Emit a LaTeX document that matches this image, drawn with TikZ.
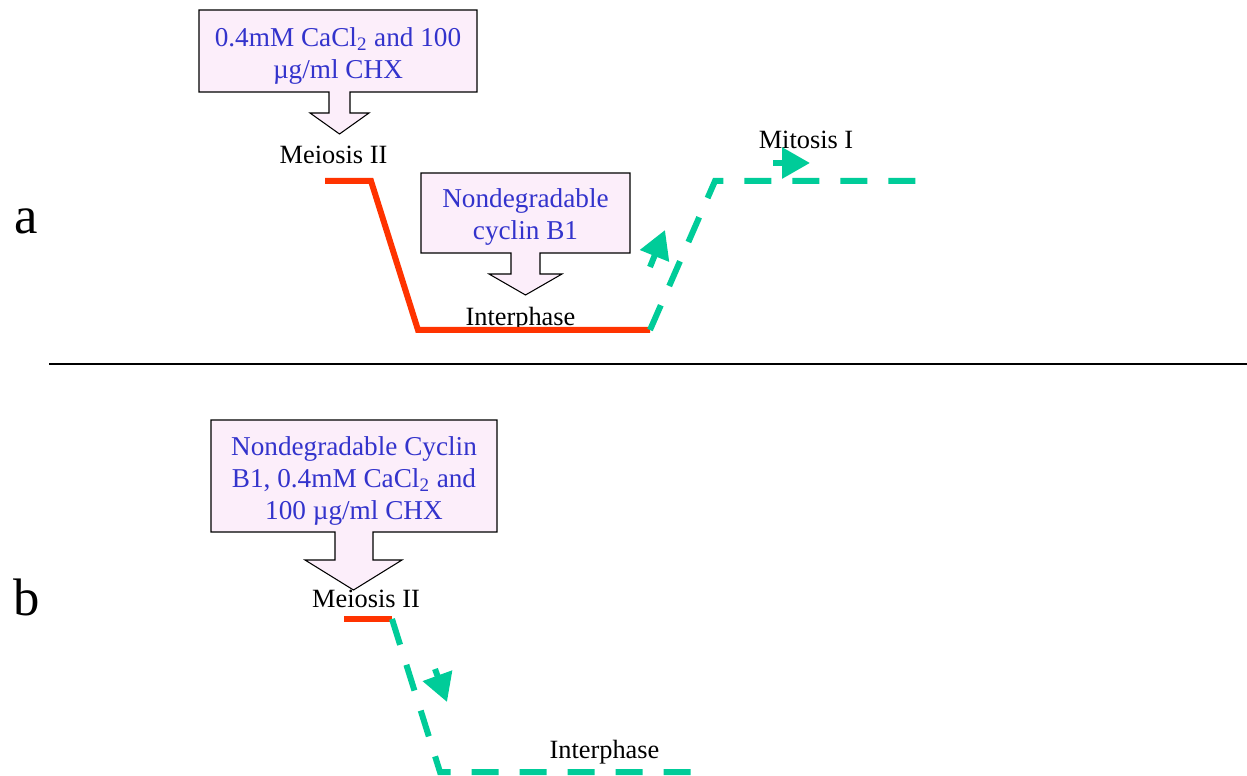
\documentclass[tikz,border=0pt]{standalone}
\usepackage{fontspec}
\setmainfont{Liberation Serif}
\usepackage{xcolor}
\definecolor{calloutFill}{HTML}{FCEEFA}
\definecolor{calloutText}{HTML}{3333CC}
\definecolor{phaseRed}{HTML}{FF3300}
\definecolor{phaseGreen}{HTML}{00CC99}
\usetikzlibrary{arrows.meta}

\begin{document}
\begin{tikzpicture}[x=0.02cm, y=-0.02cm,
  callout/.style={fill=calloutFill, draw=black, line width=0.6pt},
  boxtext/.style={text=calloutText, align=center, font=\fontsize{15.5}{18.2}\selectfont},
  stagetext/.style={anchor=base, font=\fontsize{15}{18}\selectfont},
  panel/.style={anchor=base west, inner sep=0pt, font=\fontsize{30}{36}\selectfont},
  redline/.style={phaseRed, line width=0.12cm},
  greenline/.style={phaseGreen, line width=0.12cm, dash pattern=on 0.54cm off 0.42cm},
  greenarrow/.style={phaseGreen, line width=0.12cm, -{Triangle[length=0.56cm, width=0.6cm]}}]
  \useasboundingbox (0,0) rectangle (1247,776);

  % panel a
  \node[panel] (pa) at (14,234) {a};
  \filldraw[callout] (199,10) -- (477,10) -- (477,92) -- (350,92) -- (350,113) -- (369,113)
    -- (339.5,134) -- (310,113) -- (329,113) -- (329,92) -- (199,92) -- cycle;
  \node[boxtext] (cachxA) at (338,56) {0.4mM CaCl\textsubscript{2} and 100\\µg/ml CHX};
  \filldraw[callout] (421,173) -- (630,173) -- (630,253) -- (540,253) -- (540,274) -- (562,274)
    -- (525.5,295) -- (489,274) -- (511,274) -- (511,253) -- (421,253) -- cycle;
  \node[boxtext] (cyclinA) at (525.5,217) {Nondegradable\\cyclin B1};
  \node[stagetext] (meioA) at (333.5,164) {Meiosis II};
  \node[stagetext] (interA) at (520.5,326) {Interphase};
  \node[stagetext] (mitoA) at (806,149) {Mitosis I};

  \coordinate (startA) at (325,181);
  \coordinate (dropA) at (371,181);
  \coordinate (lowA) at (418,330);
  \coordinate (riseA) at (650,330);
  \coordinate (topA) at (715,181);
  \coordinate (endA) at (926,181);
  \draw[redline] (startA) -- (dropA) -- (lowA) -- (riseA);
  \draw[greenline] (riseA) -- (topA) -- (endA);
  \coordinate (upTail) at (650,267);
  \coordinate (upTip) at (665,230);
  \coordinate (rightTail) at (773,163);
  \coordinate (rightTip) at (810,163);
  \draw[greenarrow] (upTail) -- (upTip);
  \draw[greenarrow] (rightTail) -- (rightTip);

  % divider
  \coordinate (divL) at (49,364);
  \coordinate (divR) at (1247,364);
  \draw[line width=1.1pt] (divL) -- (divR);

  % panel b
  \node[panel] (pb) at (13,615) {b};
  \filldraw[callout] (211,420) -- (497,420) -- (497,532) -- (373,532) -- (373,560) -- (402,560)
    -- (353.5,590) -- (305,560) -- (335,560) -- (335,532) -- (211,532) -- cycle;
  \node[boxtext] (cachxB) at (354,481) {Nondegradable Cyclin\\B1, 0.4mM CaCl\textsubscript{2} and\\100 µg/ml CHX};
  \node[stagetext] (meioB) at (366,607) {Meiosis II};
  \node[stagetext] (interB) at (604.5,758) {Interphase};

  \coordinate (startB) at (344,619);
  \coordinate (dropB) at (392,619);
  \coordinate (lowB) at (440,772);
  \coordinate (endB) at (706,772);
  \draw[redline] (startB) -- (dropB);
  \draw[greenline] (dropB) -- (lowB) -- (endB);
  \coordinate (downTail) at (435,669);
  \coordinate (downTip) at (447,702);
  \draw[greenarrow] (downTail) -- (downTip);
\end{tikzpicture}
\end{document}
